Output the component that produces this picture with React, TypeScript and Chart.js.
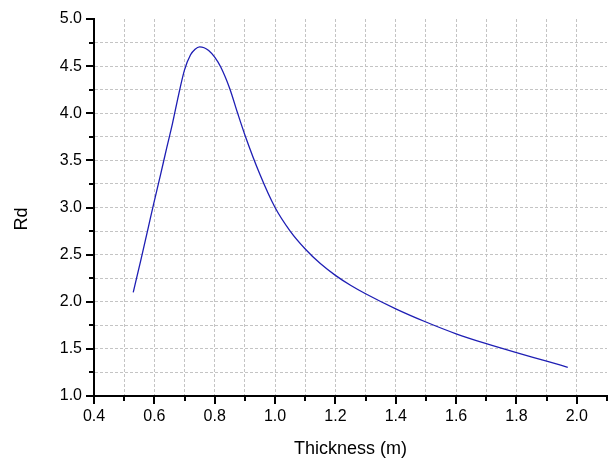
import React, { useEffect, useRef } from 'react';
import { Chart, registerables } from 'chart.js';

Chart.register(...registerables);

const thickness = [0.53, 0.555, 0.58, 0.6, 0.62, 0.64, 0.66, 0.68, 0.7, 0.72, 0.735, 0.75, 0.765, 0.78, 0.8, 0.82, 0.85, 0.875, 0.9, 0.95, 1.0, 1.05, 1.1, 1.15, 1.2, 1.25, 1.3, 1.4, 1.5, 1.6, 1.7, 1.8, 1.9, 1.97];
const rd = [2.1, 2.44, 2.79, 3.07, 3.34, 3.62, 3.89, 4.19, 4.46, 4.62, 4.68, 4.705, 4.695, 4.665, 4.595, 4.49, 4.26, 4.01, 3.77, 3.35, 3.0, 2.75, 2.56, 2.405, 2.28, 2.175, 2.085, 1.925, 1.785, 1.66, 1.555, 1.46, 1.37, 1.305];
const xTickLabels = ['0.4', '0.6', '0.8', '1.0', '1.2', '1.4', '1.6', '1.8', '2.0'];
const yTickLabels = ['1.0', '1.5', '2.0', '2.5', '3.0', '3.5', '4.0', '4.5', '5.0'];
const xTitle = 'Thickness (m)';
const yTitle = 'Rd';

const FONT = '"Liberation Sans", Arial, sans-serif';
const GRID = '#c4c4c4';

export default function App() {
  const ref = useRef<HTMLCanvasElement>(null);

  useEffect(() => {
    document.body.style.margin = '0';
    const canvas = ref.current;
    if (!canvas) return;

    const ticksPlugin = {
      id: 'originTicks',
      afterDraw(chart: any) {
        const ctx = chart.ctx;
        const xs = chart.scales.x;
        const ys = chart.scales.y;
        const area = chart.chartArea;
        ctx.save();
        ctx.strokeStyle = '#000';
        ctx.lineWidth = 2;
        ctx.setLineDash([]);
        xs.ticks.forEach((t: any) => {
          const px = Math.round(xs.getPixelForValue(t.value));
          const major = xTickLabels.includes(Number(t.value).toFixed(1));
          const len = major ? 8 : 5;
          ctx.beginPath();
          ctx.moveTo(px, area.bottom);
          ctx.lineTo(px, area.bottom + len);
          ctx.stroke();
        });
        ys.ticks.forEach((t: any) => {
          const py = Math.round(ys.getPixelForValue(t.value));
          const major = Math.abs(t.value * 2 - Math.round(t.value * 2)) < 1e-6;
          const len = major ? 8 : 5;
          ctx.beginPath();
          ctx.moveTo(area.left, py);
          ctx.lineTo(area.left - len, py);
          ctx.stroke();
        });
        ctx.fillStyle = '#000';
        ctx.font = `18px ${FONT}`;
        ctx.textAlign = 'center';
        ctx.textBaseline = 'alphabetic';
        ctx.fillText(xTitle, (area.left + area.right) / 2, 454);
        ctx.translate(27, 219);
        ctx.rotate(-Math.PI / 2);
        ctx.fillText(yTitle, 0, 0);
        ctx.restore();
      },
    };

    const chart = new Chart(canvas, {
      type: 'line',
      data: {
        datasets: [
          {
            data: thickness.map((x, i) => ({ x, y: rd[i] })),
            borderColor: '#1e1eb4',
            borderWidth: 1.3,
            pointRadius: 0,
            cubicInterpolationMode: 'monotone',
            fill: false,
          },
        ],
      },
      options: {
        responsive: false,
        animation: false,
        layout: { padding: { top: 19, right: 2, left: 0, bottom: 0 } },
        plugins: { legend: { display: false }, tooltip: { enabled: false } },
        scales: {
          x: {
            type: 'linear',
            min: 0.4,
            max: 2.1,
            afterFit: (s: any) => {
              s.height = 62;
              s.paddingLeft = 0;
              s.paddingRight = 0;
            },
            ticks: {
              stepSize: 0.1,
              autoSkip: false,
              maxRotation: 0,
              padding: 11,
              color: '#000',
              font: { family: FONT, size: 16 },
              callback: (v: any) => {
                const s = Number(v).toFixed(1);
                return xTickLabels.includes(s) ? s : '';
              },
            },
            grid: {
              drawTicks: false,
              lineWidth: 1,
              color: (c: any) =>
                c.tick && (c.tick.value > 2.05 || c.tick.value < 0.45) ? 'rgba(0,0,0,0)' : GRID,
            },
            border: { display: true, color: '#000', width: 2, dash: [3, 2] },
          },
          y: {
            type: 'linear',
            min: 1,
            max: 5,
            afterFit: (s: any) => {
              s.width = 94;
              s.paddingTop = 0;
              s.paddingBottom = 0;
            },
            ticks: {
              stepSize: 0.25,
              autoSkip: false,
              padding: 12,
              color: '#000',
              font: { family: FONT, size: 16 },
              callback: (v: any) => {
                const n = Number(v);
                if (Math.abs(n * 2 - Math.round(n * 2)) > 1e-6) return '';
                const s = n.toFixed(1);
                return yTickLabels.includes(s) ? s : '';
              },
            },
            grid: {
              drawTicks: false,
              lineWidth: 1,
              color: (c: any) =>
                c.tick && (c.tick.value > 4.95 || c.tick.value < 1.05) ? 'rgba(0,0,0,0)' : GRID,
            },
            border: { display: true, color: '#000', width: 2, dash: [3, 2] },
          },
        },
      },
      plugins: [ticksPlugin],
    } as any);

    return () => chart.destroy();
  }, []);

  return (
    <div style={{ position: 'absolute', left: 0, top: 0, width: 609, height: 458 }}>
      <canvas ref={ref} width={609} height={458} style={{ width: 609, height: 458 }} />
    </div>
  );
}
